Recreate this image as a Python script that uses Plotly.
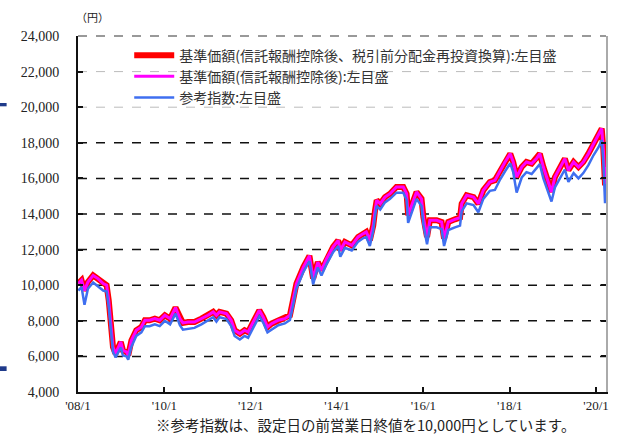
import plotly.graph_objects as go

dates = [
    "2008-01-04", "2008-01-31", "2008-02-25", "2008-03-25", "2008-05-08", "2008-06-18",
    "2008-08-01", "2008-08-30", "2008-09-17", "2008-10-08", "2008-10-23", "2008-11-14",
    "2008-12-06", "2008-12-28", "2009-01-15", "2009-02-14", "2009-03-01", "2009-03-28",
    "2009-05-08", "2009-06-20", "2009-07-20", "2009-08-28", "2009-10-12", "2009-11-22",
    "2010-01-05", "2010-02-18", "2010-04-05", "2010-05-12", "2010-06-07", "2010-07-20",
    "2010-09-12", "2010-11-10", "2011-01-05", "2011-02-18", "2011-03-17", "2011-04-12",
    "2011-06-10", "2011-07-20", "2011-08-18", "2011-10-01", "2011-11-10", "2011-12-10",
    "2012-01-22", "2012-03-14", "2012-04-16", "2012-05-22", "2012-06-25", "2012-08-22",
    "2012-10-16", "2012-11-28", "2012-12-24", "2013-01-22", "2013-03-22", "2013-05-12",
    "2013-06-12", "2013-07-22", "2013-08-22", "2013-10-05", "2013-11-28", "2014-01-10",
    "2014-01-28", "2014-03-08", "2014-05-05", "2014-06-28", "2014-08-12", "2014-09-05",
    "2014-10-05", "2014-11-03", "2014-11-18", "2014-12-02", "2015-01-01", "2015-02-10",
    "2015-03-25", "2015-05-18", "2015-07-15", "2015-08-12", "2015-08-25", "2015-09-24",
    "2015-11-04", "2015-12-16", "2016-01-01", "2016-02-01", "2016-02-25", "2016-04-22",
    "2016-06-03", "2016-06-24", "2016-07-30", "2016-09-24", "2016-11-06", "2016-11-20",
    "2017-01-01", "2017-02-28", "2017-04-10", "2017-05-22", "2017-07-16", "2017-08-28",
    "2017-10-12", "2017-11-22", "2018-01-05", "2018-01-30", "2018-02-28", "2018-04-12",
    "2018-05-22", "2018-07-05", "2018-08-15", "2018-09-12", "2018-10-12", "2018-11-10",
    "2018-12-20", "2019-01-18", "2019-03-05", "2019-04-12", "2019-05-12", "2019-06-25",
    "2019-08-05", "2019-09-15", "2019-10-28", "2019-12-10", "2020-01-22", "2020-02-18",
    "2020-03-03", "2020-03-17", "2020-03-24",
]

nav_reinvested = [
    10100, 10280, 9700, 10180, 10550, 10370,
    10090, 10000, 9150, 7650, 6530, 6160,
    6530, 6810, 6340, 6250, 6060, 6900,
    7470, 7650, 8030, 8030, 8120, 8030,
    8310, 8120, 8740, 8120, 7880, 7930,
    7930, 8120, 8310, 8500, 8310, 8500,
    8400, 8030, 7470, 7280, 7470, 7370,
    7930, 8590, 8210, 7650, 7840, 8030,
    8120, 8310, 9150, 10090, 11020, 11650,
    10370, 11300, 10840, 11500, 12150, 12520,
    11960, 12430, 12240, 12710, 12900, 12990,
    12520, 13360, 14200, 14770, 14580, 14950,
    15140, 15520, 15520, 15140, 13930, 14490,
    15240, 14860, 13830, 12710, 13650, 13650,
    13550, 12620, 13550, 13700, 13800, 14580,
    15050, 14950, 14580, 15330, 15800, 15890,
    16460, 16920, 17390, 16920, 16080, 16640,
    16920, 16830, 17110, 17390, 16640, 15990,
    15240, 16080, 16640, 17110, 16460, 16920,
    16640, 16920, 17390, 17950, 18420, 18800,
    17580, 15610, 16640,
]

nav = [
    10100, 10280, 9700, 10180, 10550, 10370,
    10090, 10000, 9150, 7650, 6530, 6160,
    6530, 6810, 6340, 6250, 6060, 6900,
    7470, 7650, 8030, 8030, 8120, 8030,
    8310, 8120, 8740, 8120, 7880, 7930,
    7930, 8120, 8310, 8500, 8310, 8500,
    8400, 8030, 7470, 7280, 7470, 7370,
    7930, 8590, 8210, 7650, 7840, 8030,
    8120, 8310, 9150, 10090, 11020, 11650,
    10370, 11300, 10840, 11500, 12150, 12520,
    11960, 12430, 12240, 12710, 12900, 12990,
    12520, 13360, 14200, 14770, 14580, 14950,
    15140, 15520, 15520, 15140, 13930, 14490,
    15240, 14860, 13830, 12710, 13650, 13650,
    13550, 12620, 13550, 13700, 13800, 14580,
    15050, 14950, 14580, 15330, 15800, 15890,
    16460, 16920, 17390, 16920, 16080, 16640,
    16920, 16830, 17110, 17390, 16640, 15990,
    15240, 16080, 16640, 17110, 16460, 16920,
    16640, 16920, 17390, 17950, 18420, 18800,
    17580, 15610, 16640,
]

benchmark = [
    9700, 9900, 8900, 9800, 10150, 9950,
    9700, 9650, 8800, 7300, 6250, 5950,
    6250, 6500, 6050, 6000, 5820, 6550,
    7150, 7350, 7700, 7700, 7800, 7700,
    8000, 7800, 8400, 7750, 7500, 7550,
    7600, 7800, 8000, 8200, 7950, 8200,
    8100, 7700, 7150, 6950, 7150, 7050,
    7600, 8250, 7900, 7350, 7500, 7750,
    7850, 8050, 8850, 9800, 10750, 11350,
    10050, 11000, 10550, 11200, 11850, 12200,
    11600, 12100, 11950, 12450, 12650, 12700,
    12200, 13050, 13900, 14450, 14250, 14650,
    14850, 15200, 15200, 14800, 13500, 14100,
    14850, 14450, 13400, 12300, 13250, 13250,
    13150, 12200, 13100, 13250, 13350, 14150,
    14600, 14500, 14100, 14850, 15300, 15350,
    15950, 16400, 16850, 16350, 15200, 16050,
    16350, 16250, 16550, 16800, 16000, 15400,
    14700, 15500, 16050, 16500, 15800, 16300,
    16000, 16300, 16750, 17300, 17750, 18150,
    16900, 14600, 15700,
]

series_names = [
    "基準価額(信託報酬控除後、税引前分配金再投資換算):左目盛",
    "基準価額(信託報酬控除後):左目盛",
    "参考指数:左目盛",
]

y_ticks = [4000, 6000, 8000, 10000, 12000, 14000, 16000, 18000, 20000, 22000, 24000]
y_tick_labels = ["4,000", "6,000", "8,000", "10,000", "12,000", "14,000", "16,000",
                 "18,000", "20,000", "22,000", "24,000"]
x_ticks = ["2008-01-01", "2010-01-01", "2012-01-01", "2014-01-01", "2016-01-01",
           "2018-01-01", "2020-01-01"]
x_tick_labels = ["'08/1", "'10/1", "'12/1", "'14/1", "'16/1", "'18/1", "'20/1"]
black_grid = [6000, 8000, 10000, 12000, 14000, 16000, 18000]
gray_grid = [20000, 22000]

unit_label = "（円）"
footnote = "※参考指数は、設定日の前営業日終値を10,000円としています。"

fig = go.Figure()
fig.add_trace(go.Scatter(x=dates, y=nav_reinvested, name=series_names[0], mode="lines",
                         line=dict(color="#FF0000", width=6)))
fig.add_trace(go.Scatter(x=dates, y=nav, name=series_names[1], mode="lines",
                         line=dict(color="#FF00FF", width=3)))
fig.add_trace(go.Scatter(x=dates, y=benchmark, name=series_names[2], mode="lines",
                         line=dict(color="#3F6FF0", width=2.5)))
# invisible trace to enable right-side mirror ticks
fig.add_trace(go.Scatter(x=[dates[0]], y=[y_ticks[0]], yaxis="y2", mode="lines",
                         showlegend=False, hoverinfo="skip", line=dict(width=0)))

shapes = []
for v in black_grid:
    shapes.append(dict(type="line", xref="paper", x0=0, x1=1, yref="y", y0=v, y1=v,
                       line=dict(color="#111111", width=1.5, dash="dash"), layer="below"))
for v in gray_grid:
    shapes.append(dict(type="line", xref="paper", x0=0, x1=1, yref="y", y0=v, y1=v,
                       line=dict(color="#BBBBBB", width=1, dash="dash"), layer="below"))
shapes.append(dict(type="line", xref="paper", x0=0, x1=1, yref="paper", y0=1, y1=1,
                   line=dict(color="#999999", width=2, dash="dash"), layer="below"))
# small navy marks at the far left edge
shapes.append(dict(type="rect", xref="paper", yref="paper", x0=-0.1485, x1=-0.1352,
                   y0=0.8025, y1=0.8118, fillcolor="#1F3A8A", line=dict(width=0)))
shapes.append(dict(type="rect", xref="paper", yref="paper", x0=-0.1485, x1=-0.1352,
                   y0=0.059, y1=0.0722, fillcolor="#1F3A8A", line=dict(width=0)))

serif = "Liberation Serif, Times New Roman, serif"
jp = "Noto Sans CJK JP, sans-serif"

fig.update_layout(
    width=620, height=436,
    margin=dict(l=78, r=14, t=36, b=44),
    paper_bgcolor="white", plot_bgcolor="white",
    showlegend=True,
    legend=dict(x=0.097, y=0.99, xanchor="left", yanchor="top",
                font=dict(family=jp, size=14, color="#333333"),
                bgcolor="rgba(0,0,0,0)", tracegroupgap=2, itemwidth=40),
    xaxis=dict(type="date", range=["2008-01-01", "2020-03-25"],
               tickvals=x_ticks, ticktext=x_tick_labels,
               ticks="inside", ticklen=5, tickwidth=1.5, tickcolor="#111111",
               showgrid=False, zeroline=False,
               showline=True, linecolor="#111111", linewidth=2,
               tickfont=dict(family=serif, size=13, color="#222222")),
    yaxis=dict(range=[4000, 24000], tickvals=y_ticks, ticktext=y_tick_labels,
               ticks="inside", ticklen=5, tickwidth=1.5, tickcolor="#111111",
               showgrid=False, zeroline=False,
               showline=True, linecolor="#111111", linewidth=2,
               ticklabelstandoff=14,
               tickfont=dict(family=serif, size=14, color="#222222")),
    yaxis2=dict(range=[4000, 24000], tickvals=y_ticks, overlaying="y", side="right",
                showticklabels=False, ticks="inside", ticklen=5, tickwidth=1.5,
                tickcolor="#111111", showgrid=False, zeroline=False,
                showline=True, linecolor="#AAAAAA", linewidth=2),
    shapes=shapes,
    annotations=[
        dict(text=unit_label, xref="paper", yref="paper", x=0.027, y=1.052,
             xanchor="center", yanchor="middle", showarrow=False,
             font=dict(family=jp, size=11, color="#222222")),
        dict(text=footnote, xref="paper", yref="paper", x=0.545, y=-0.09,
             xanchor="center", yanchor="middle", showarrow=False,
             font=dict(family=jp, size=14.5, color="#222222")),
    ],
)

fig.write_html("out.html", config={"displayModeBar": False},
               post_script="document.body.style.margin='0px';document.body.style.overflow='hidden';")
